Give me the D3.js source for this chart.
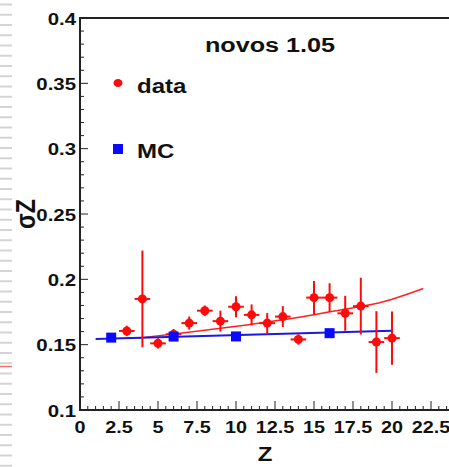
<!DOCTYPE html>
<html><head><meta charset="utf-8">
<script src="https://cdn.jsdelivr.net/npm/d3@7"></script>
<style>body{margin:0;background:#fff;}svg{display:block;font-family:"Liberation Sans",Arial,sans-serif;}</style>
</head><body>
<script>
// ---- data ----
const dataZ   = [3, 4, 5, 6, 7, 8, 9, 10, 11, 12, 13, 14, 15, 16, 17, 18, 19, 20];
const dataVal = [0.1605, 0.185, 0.151, 0.158, 0.1665, 0.176, 0.168, 0.179, 0.1728, 0.1665, 0.1715, 0.154, 0.186, 0.186, 0.174, 0.1795, 0.152, 0.155];
const dataErr = [0.004, 0.037, 0.004, 0.004, 0.005, 0.004, 0.008, 0.008, 0.008, 0.0077, 0.008, 0.004, 0.0128, 0.011, 0.0134, 0.0217, 0.0236, 0.0204];
const mcZ   = [2, 6, 10, 16];
const mcVal = [0.1554, 0.1562, 0.1563, 0.1588];
const fitDataZ = [3.7, 6.3, 10.3, 13, 16.7, 19.5, 22];
const fitDataV = [0.155, 0.1585, 0.1645, 0.169, 0.1766, 0.183, 0.193];
const fitMcZ = [1, 20];
const fitMcV = [0.1544, 0.1607];
const xTicks = [0, 2.5, 5, 7.5, 10, 12.5, 15, 17.5, 20, 22.5];
const yTicks = [0.1, 0.15, 0.2, 0.25, 0.3, 0.35, 0.4];
const titleText = "novos 1.05";
const legendLabels = ["data", "MC"];

const W = 449, H = 467;
const SX = 1.2; // horizontal glyph stretch seen in the picture
const svg = d3.select("body").append("svg").attr("width", W).attr("height", H);

function stext(px, py, str, size, anchor) {
  return svg.append("text").attr("transform", `translate(${px},${py}) scale(${SX},1)`)
    .attr("text-anchor", anchor || "start").attr("font-weight", "bold")
    .attr("font-size", size).attr("fill", "#111").text(str);
}

// left-page artifacts (dashes)
const dashG = svg.append("g");
d3.range(0, 46).forEach(i => {
  const yy = 4.5 + i * 10.25;
  dashG.append("line").attr("x1", 0).attr("x2", 12).attr("y1", yy).attr("y2", yy)
    .attr("stroke", "#d4d4d4").attr("stroke-width", 2);
});
dashG.append("line").attr("x1", 0).attr("x2", 12).attr("y1", 366.5).attr("y2", 366.5)
  .attr("stroke", "#f07070").attr("stroke-width", 1.5);

const x = d3.scaleLinear().domain([0, 24]).range([80, 80 + 24 * 15.6]);
const y = d3.scaleLinear().domain([0.1, 0.4]).range([410, 18]);

const axisColor = "#222";
// frame
svg.append("line").attr("x1", x(0)).attr("x2", W).attr("y1", y(0.4)).attr("y2", y(0.4))
  .attr("stroke", axisColor).attr("stroke-width", 2);

// y axis ticks
const yMinor = d3.range(0.1, 0.4001, 0.01);
const yAx = svg.append("g");
yMinor.forEach(v => {
  const major = yTicks.some(t => Math.abs(t - v) < 1e-6);
  yAx.append("line").attr("x1", x(0)).attr("x2", x(0) + (major ? 8 : 4))
    .attr("y1", y(v)).attr("y2", y(v)).attr("stroke", axisColor).attr("stroke-width", 1);
});
yAx.append("line").attr("x1", x(0)).attr("x2", x(0)).attr("y1", y(0.4) - 1).attr("y2", y(0.1) + 1)
  .attr("stroke", axisColor).attr("stroke-width", 2);
yTicks.forEach(v => {
  stext(x(0) - 4, y(v) + 6.5, String(v), 17, "end");
});

// x axis ticks
const xMinor = d3.range(0, 24.01, 0.5);
const xAx = svg.append("g");
xMinor.forEach(v => {
  const major = xTicks.some(t => Math.abs(t - v) < 1e-6);
  xAx.append("line").attr("x1", x(v)).attr("x2", x(v))
    .attr("y1", y(0.1)).attr("y2", y(0.1) - (major ? 9 : 4)).attr("stroke", axisColor).attr("stroke-width", 1);
});
xAx.append("line").attr("x1", x(0) - 1).attr("x2", W).attr("y1", y(0.1)).attr("y2", y(0.1))
  .attr("stroke", axisColor).attr("stroke-width", 2);
xTicks.forEach(v => {
  stext(x(v), 433, String(v), 16.5, "middle");
});

// axis titles
stext(265, 461, "Z", 20, "middle");
svg.append("text").attr("transform", "translate(35,214) rotate(-90) scale(1,1.2)").attr("text-anchor", "middle")
  .attr("font-weight", "bold").attr("font-size", 23).attr("fill", "#111").text("σZ");

// fit lines
const line = d3.line().x(d => x(d[0])).y(d => y(d[1])).curve(d3.curveMonotoneX);
svg.append("path").datum(d3.zip(fitDataZ, fitDataV)).attr("d", line)
  .attr("fill", "none").attr("stroke", "#ff2020").attr("stroke-width", 1.5);
svg.append("path").datum(d3.zip(fitMcZ, fitMcV)).attr("d", line)
  .attr("fill", "none").attr("stroke", "#1a1ae0").attr("stroke-width", 2);

// data points
const red = "#ff0a0a";
const dg = svg.append("g");
dataZ.forEach((z, i) => {
  const v = dataVal[i], e = dataErr[i];
  dg.append("line").attr("x1", x(z)).attr("x2", x(z)).attr("y1", y(v + e)).attr("y2", y(v - e))
    .attr("stroke", red).attr("stroke-width", 2);
  dg.append("line").attr("x1", x(z - 0.5)).attr("x2", x(z + 0.5)).attr("y1", y(v)).attr("y2", y(v))
    .attr("stroke", red).attr("stroke-width", 2);
  dg.append("circle").attr("cx", x(z)).attr("cy", y(v)).attr("r", 4.5).attr("fill", red);
});

// MC points
const blue = "#0a0aff";
mcZ.forEach((z, i) => {
  svg.append("rect").attr("x", x(z) - 5).attr("y", y(mcVal[i]) - 5).attr("width", 10).attr("height", 10)
    .attr("fill", blue);
});

// title
stext(270, 52, titleText, 21, "middle");

// legend
svg.append("ellipse").attr("cx", 118).attr("cy", 83).attr("rx", 4.5).attr("ry", 4).attr("fill", red);
stext(137, 93, legendLabels[0], 20, "start");
svg.append("rect").attr("x", 113).attr("y", 144).attr("width", 10).attr("height", 10).attr("fill", blue);
stext(137, 158, legendLabels[1], 20, "start");
</script>
</body></html>
